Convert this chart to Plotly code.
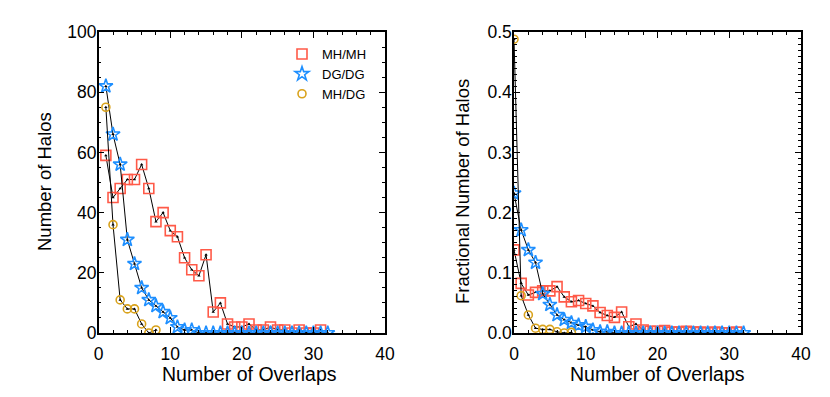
import plotly.graph_objects as go

# left panel: counts, starting at 1 overlap
n_mhmh = list(range(1, 32))
mhmh_counts = [59, 45, 48, 51, 51, 56, 48, 37, 40, 34, 32, 25, 21, 19, 26, 7, 10,
               3, 2, 2, 3, 1, 1, 2, 1, 1, 0, 1, 0, 0, 1]
n_dgdg = list(range(1, 33))
dgdg_counts = [82, 66, 56, 31, 23, 15, 11, 9, 7, 5, 2, 1, 1] + [0] * 19
n_mhdg = list(range(1, 9))
mhdg_counts = [75, 36, 11, 8, 8, 3, 0, 1]

# right panel: fractions, starting at 0 overlaps
f_mhmh_n = list(range(0, 32))
mhmh_frac = [0.138, 0.0825, 0.063, 0.0675, 0.070, 0.070, 0.077, 0.060, 0.052, 0.054,
             0.049, 0.045, 0.034, 0.029, 0.026, 0.035, 0.0105, 0.015, 0.005, 0.003,
             0.003, 0.004, 0.0015, 0.0015, 0.003, 0.0015, 0.0015, 0.0005, 0.0015,
             0.0005, 0.0005, 0.0015]
f_dgdg_n = list(range(0, 33))
dgdg_frac = [0.232, 0.171, 0.138, 0.117, 0.065, 0.047, 0.030, 0.022, 0.017, 0.013,
             0.0105, 0.005, 0.002, 0.002] + [0.0] * 19
f_mhdg_n = list(range(0, 9))
mhdg_frac = [0.488, 0.062, 0.030, 0.008, 0.006, 0.006, 0.002, 0.0, 0.001]

labels = ["MH/MH", "DG/DG", "MH/DG"]
colors = ["#FF5A48", "#1E8FFF", "#D9A21B"]
symbols = ["square-open", "star-open", "circle-open"]
sizes = [10, 10.5, 8]

W, H = 830, 397
OFF = 8  # the page body margin shifts the figure by 8px


def px(x):
    return (x - OFF) / W


def py(y):
    return (H - (y - OFF)) / H


fig = go.Figure()

left = [(n_mhmh, mhmh_counts), (n_dgdg, dgdg_counts), (n_mhdg, mhdg_counts)]
right = [(f_mhmh_n, mhmh_frac), (f_dgdg_n, dgdg_frac), (f_mhdg_n, mhdg_frac)]

for panel, (xa, ya) in [(left, ("x", "y")), (right, ("x2", "y2"))]:
    for i, (xs, ys) in enumerate(panel):
        fig.add_trace(go.Scatter(
            x=xs, y=ys, xaxis=xa, yaxis=ya, mode="lines+markers",
            line=dict(color="black", width=1),
            marker=dict(color="black", size=3, symbol="triangle-up"),
            showlegend=False, hoverinfo="skip"))
        fig.add_trace(go.Scatter(
            x=xs, y=ys, xaxis=xa, yaxis=ya, mode="markers",
            marker=dict(symbol=symbols[i], color=colors[i], size=sizes[i],
                        line=dict(width=1.6, color=colors[i])),
            name=labels[i], showlegend=(xa == "x")))

fam = "Liberation Sans, Arial, sans-serif"
tickfont = dict(family=fam, size=17.5, color="black")
xtitlefont = dict(family=fam, size=19.5, color="black")
ytitlefont = dict(family=fam, size=18.5, color="black")

xcommon = dict(range=[0, 40], dtick=10, tick0=0, ticks="inside", ticklen=6,
               showline=True, linecolor="black", linewidth=1.5, mirror="ticks",
               tickcolor="black", showgrid=False, zeroline=False, automargin=False,
               minor=dict(dtick=2, ticks="inside", ticklen=3, tickcolor="black"),
               tickfont=tickfont, ticklabelstandoff=4)
ycommon = dict(ticks="inside", ticklen=6, showline=True, linecolor="black",
               linewidth=1.5, mirror="ticks", tickcolor="black", showgrid=False,
               zeroline=False, automargin=False, tickfont=tickfont,
               ticklabelstandoff=-3)

ydom = [py(333), py(32)]


def label(text, x, y, font, angle=0):
    return dict(text=text, x=px(x), y=py(y), xref="paper", yref="paper",
                xanchor="center", yanchor="middle", showarrow=False,
                textangle=angle, font=font)


fig.update_layout(
    width=W, height=H,
    margin=dict(l=0, r=0, t=0, b=0, autoexpand=False),
    paper_bgcolor="white", plot_bgcolor="white",
    font=tickfont,
    xaxis=dict(domain=[px(98.7), px(385)], anchor="y", **xcommon),
    yaxis=dict(domain=ydom, anchor="x", range=[0, 100], dtick=20,
               minor=dict(dtick=5, ticks="inside", ticklen=3, tickcolor="black"),
               **ycommon),
    xaxis2=dict(domain=[px(514), px(801)], anchor="y2", **xcommon),
    yaxis2=dict(domain=ydom, anchor="x2", range=[0, 0.5], dtick=0.1,
                tickformat=".1f",
                minor=dict(dtick=0.01, ticks="inside", ticklen=3, tickcolor="black"),
                **ycommon),
    legend=dict(x=px(372), y=py(39), xanchor="right", yanchor="top",
                bgcolor="rgba(0,0,0,0)",
                font=dict(size=13, color="black", family=fam),
                itemwidth=30, tracegroupgap=0),
    annotations=[
        label("Number of Overlaps", 249, 374, xtitlefont),
        label("Number of Overlaps", 657, 374, xtitlefont),
        label("Number of Halos", 45, 182, ytitlefont, -90),
        label("Fractional Number of Halos", 462, 192, ytitlefont, -90),
    ],
)

fig.write_html("out.html")
